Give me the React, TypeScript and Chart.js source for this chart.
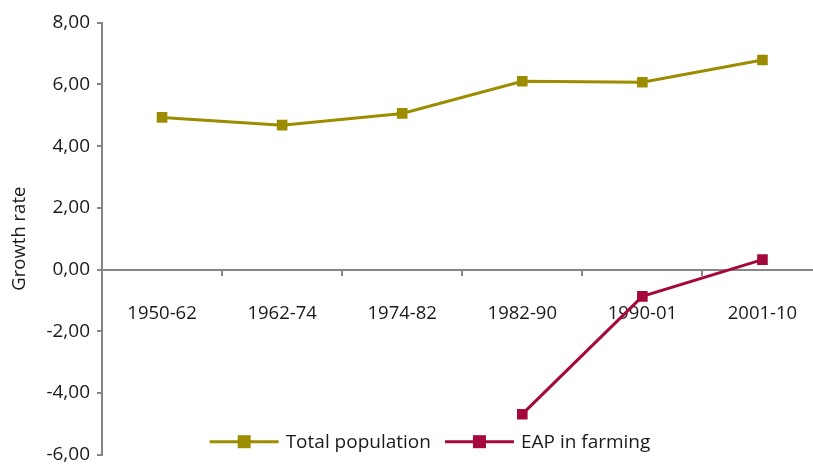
import React, { useEffect, useRef } from 'react';
import { Chart, registerables } from 'chart.js';

Chart.register(...registerables);

const categories = ['1950-62', '1962-74', '1974-82', '1982-90', '1990-01', '2001-10'];
const totalPopulation = [4.93, 4.68, 5.06, 6.1, 6.07, 6.79];
const eapFarming: (number | null)[] = [null, null, null, -4.69, -0.87, 0.32];
const seriesLabels = ['Total population', 'EAP in farming'];
const yTickValues = [-6, -4, -2, 0, 2, 4, 6, 8];
const yTitle = 'Growth rate';

const FONT = '"Open Sans", "Noto Sans", sans-serif';
const TEXT = '#1a1a1a';
const AXIS = '#868688';
const OLIVE = '#9c8c00';
const CRIMSON = '#a5083c';

const legendPlugin = {
  id: 'bottomLegend',
  afterDraw(chart: any) {
    const ctx = chart.ctx as CanvasRenderingContext2D;
    const ds = chart.data.datasets;
    ctx.save();
    ctx.font = `19px ${FONT}`;
    const lineLen = 69;
    const gapText = 7;
    const gapItem = 14;
    const widths = ds.map((d: any) => lineLen + gapText + ctx.measureText(d.label).width);
    const total = widths.reduce((a: number, b: number) => a + b, 0) + gapItem * (ds.length - 1);
    let x = chart.chartArea.left + 328 - total / 2;
    const y = 441.7;
    ds.forEach((d: any, i: number) => {
      ctx.strokeStyle = d.borderColor;
      ctx.lineWidth = 3;
      ctx.beginPath();
      ctx.moveTo(x, y);
      ctx.lineTo(x + lineLen, y);
      ctx.stroke();
      ctx.fillStyle = d.backgroundColor;
      ctx.fillRect(x + lineLen / 2 - 6.5, y - 6.5, 13, 13);
      ctx.fillStyle = TEXT;
      ctx.textBaseline = 'middle';
      ctx.textAlign = 'left';
      ctx.fillText(d.label, x + lineLen + gapText, y + 1);
      x += widths[i] + gapItem;
    });
    ctx.restore();
  },
};

export default function App() {
  const ref = useRef<HTMLCanvasElement>(null);
  useEffect(() => {
    if (!ref.current) return;
    const chart = new Chart(ref.current, {
      type: 'line',
      data: {
        labels: categories,
        datasets: [
          {
            label: seriesLabels[0],
            data: totalPopulation,
            borderColor: OLIVE,
            backgroundColor: OLIVE,
            borderWidth: 3,
            pointStyle: 'rect',
            pointRadius: 7.5,
            pointHoverRadius: 7.5,
            pointBorderWidth: 0,
            tension: 0,
          },
          {
            label: seriesLabels[1],
            data: eapFarming,
            borderColor: CRIMSON,
            backgroundColor: CRIMSON,
            borderWidth: 3,
            pointStyle: 'rect',
            pointRadius: 7.5,
            pointHoverRadius: 7.5,
            pointBorderWidth: 0,
            tension: 0,
          },
        ],
      },
      options: {
        responsive: false,
        animation: false,
        layout: { padding: { left: 0, top: 22.7, right: 6, bottom: 10.7 } },
        plugins: {
          legend: { display: false },
          tooltip: { enabled: false },
        },
        scales: {
          x: {
            type: 'category',
            position: { y: 0 } as any,
            offset: true,
            border: { display: true, color: AXIS, width: 2 },
            grid: {
              display: true,
              drawOnChartArea: false,
              drawTicks: true,
              tickLength: 5,
              color: AXIS,
              lineWidth: 2,
              offset: true,
            },
            ticks: {
              color: TEXT,
              font: { family: FONT, size: 18.5 },
              padding: 28.5,
              maxRotation: 0,
              autoSkip: false,
            },
          },
          y: {
            type: 'linear',
            position: 'left',
            min: -6,
            max: 8,
            afterBuildTicks: (scale: any) => {
              scale.ticks = yTickValues.map((v) => ({ value: v }));
            },
            afterFit: (scale: any) => {
              scale.width = 102;
            },
            border: { display: true, color: AXIS, width: 2 },
            grid: {
              display: true,
              drawOnChartArea: false,
              drawTicks: true,
              tickLength: 5,
              color: AXIS,
              lineWidth: 2,
            },
            ticks: {
              color: TEXT,
              font: { family: FONT, size: 19 },
              padding: 7,
              callback: (v: any) => Number(v).toFixed(2).replace('.', ','),
            },
            title: {
              display: true,
              text: yTitle,
              color: TEXT,
              font: { family: FONT, size: 18.5 },
              padding: { top: 9, bottom: 0 },
            },
          },
        },
      },
      plugins: [legendPlugin],
    });
    return () => chart.destroy();
  }, []);
  return (
    <div style={{ position: 'fixed', left: 0, top: 0, width: 813, height: 464, overflow: 'hidden', background: '#fff' }}>
      <canvas ref={ref} width={830} height={473} style={{ display: 'block' }} />
    </div>
  );
}
